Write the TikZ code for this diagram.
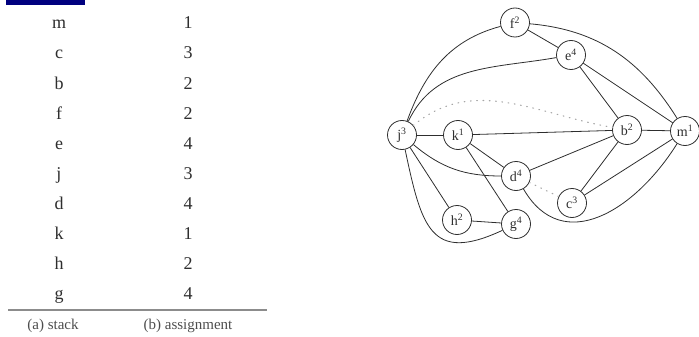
\documentclass[tikz,border=0pt]{standalone}
\usepackage{fontspec}
\setmainfont{Liberation Serif}
\usetikzlibrary{positioning}
\definecolor{stkink}{HTML}{2E2E2E}
\definecolor{stkrule}{HTML}{8C8C8C}
\definecolor{stkbar}{HTML}{00007F}
\definecolor{stkdot}{HTML}{A6A6A6}
\tikzset{
  cell/.style  ={font=\fontsize{18}{20}\selectfont,text=stkink,inner sep=0pt,text height=12pt,text depth=4pt},
  captxt/.style={font=\fontsize{15}{18}\selectfont,text=stkink!85,inner sep=0pt},
  vtx/.style   ={circle,draw=stkink,line width=0.8pt,minimum size=29pt,inner sep=0pt,font=\fontsize{14}{15}\selectfont,text=stkink},
  link/.style  ={draw=stkink,line width=0.8pt},
  spill/.style ={draw=stkdot,line width=1.1pt,dash pattern=on 0.8pt off 5.5pt,line cap=round},
  rulel/.style ={draw=stkrule,line width=1.3pt},
}
\begin{document}
\begin{tikzpicture}[x=1pt,y=-1pt,node distance=30pt and 129pt,on grid]
  \useasboundingbox (0,0) rectangle (699,337);
  \fill[stkbar] (6,0) rectangle (85,5.5);

  % (a) stack and (b) assignment
  \node[cell] (sm) at (59,25) {m};
  \node[cell, below=of sm] (sc) {c};
  \node[cell, below=of sc] (sb) {b};
  \node[cell, below=of sb] (sf) {f};
  \node[cell, below=of sf] (se) {e};
  \node[cell, below=of se] (sj) {j};
  \node[cell, below=of sj] (sd) {d};
  \node[cell, below=of sd] (sk) {k};
  \node[cell, below=of sk] (sh) {h};
  \node[cell, below=of sh] (sg) {g};

  \node[cell, right=of sm] (am) {1};
  \node[cell, right=of sc] (ac) {3};
  \node[cell, right=of sb] (ab) {2};
  \node[cell, right=of sf] (af) {2};
  \node[cell, right=of se] (ae) {4};
  \node[cell, right=of sj] (aj) {3};
  \node[cell, right=of sd] (ad) {4};
  \node[cell, right=of sk] (ak) {1};
  \node[cell, right=of sh] (ah) {2};
  \node[cell, right=of sg] (ag) {4};

  \coordinate (rl) at (8,310);
  \coordinate (rr) at (267,310);
  \draw[rulel] (rl) -- (rr);
  \node[captxt] (ca) at (53,326) {(a) stack};
  \node[captxt] (cb) at (188,326) {(b) assignment};

  % interference graph
  \node[vtx] (f) at (515,22.5) {f\textsuperscript{2}};
  \node[vtx] (e) at (571,55) {e\textsuperscript{4}};
  \node[vtx] (j) at (402,135) {j\textsuperscript{3}};
  \node[vtx] (k) at (458,135) {k\textsuperscript{1}};
  \node[vtx] (b) at (627,130) {b\textsuperscript{2}};
  \node[vtx] (m) at (685,131) {m\textsuperscript{1}};
  \node[vtx] (d) at (516,176) {d\textsuperscript{4}};
  \node[vtx] (c) at (572,203) {c\textsuperscript{3}};
  \node[vtx] (h) at (457,220) {h\textsuperscript{2}};
  \node[vtx] (g) at (516,224) {g\textsuperscript{4}};

  \draw[link] (f) -- (e);
  \draw[link] (f) to[out=195,in=70] (j);
  \draw[link] (f) to[out=-5,in=122] (m);
  \draw[link] (e) to[out=190,in=65] (j);
  \draw[link] (e) -- (b);
  \draw[link] (e) -- (m);
  \draw[link] (j) -- (k);
  \draw[link] (j) to[out=-40,in=180] (d);
  \draw[link] (j) -- (h);
  \draw[link] (j) to[out=-78,in=205,looseness=1.6] (g);
  \draw[link] (k) -- (b);
  \draw[link] (k) -- (d);
  \draw[link] (k) -- (g);
  \draw[link] (h) -- (g);
  \draw[link] (d) -- (b);
  \draw[link] (d) to[out=-60,in=-122,looseness=1.25] (m);
  \draw[link] (b) -- (m);
  \draw[link] (b) -- (c);
  \draw[link] (m) -- (c);
  \draw[spill] (j) to[out=40,in=170] (b);
  \draw[spill] (d) -- (c);
\end{tikzpicture}
\end{document}
